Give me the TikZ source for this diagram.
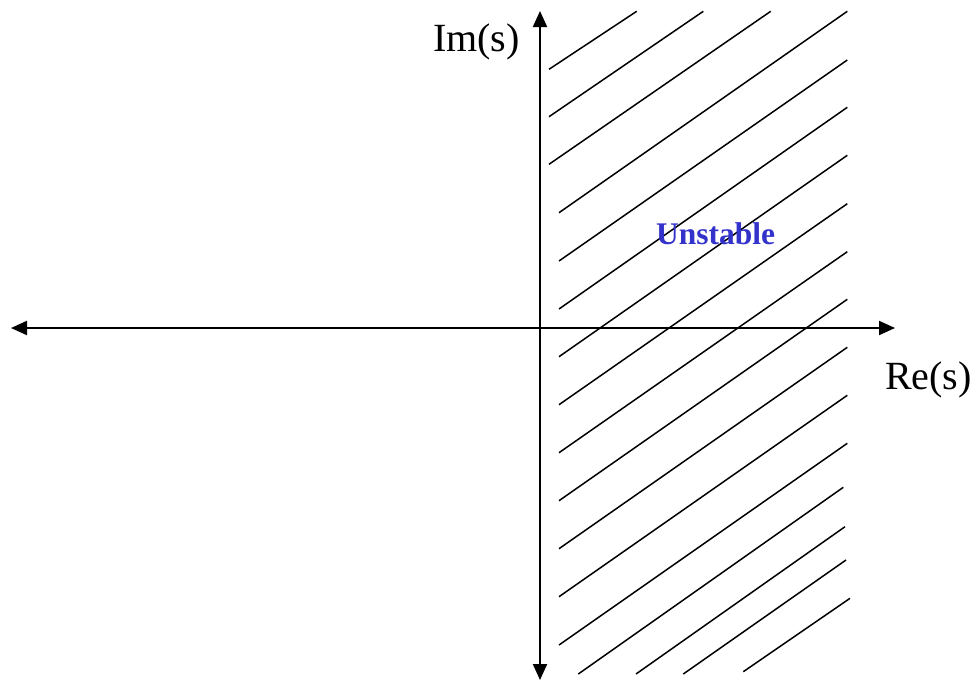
\documentclass[tikz,border=0pt]{standalone}
\usepackage{fontspec}
\setmainfont{Liberation Serif}
\usetikzlibrary{arrows.meta}
\definecolor{unstblue}{RGB}{51,51,204}
\tikzset{
  axis/.style={line width=2.1pt, -{Triangle[length=16pt,width=14pt]}},
  hatch/.style={line width=1.5pt},
  axlabel/.style={inner sep=0pt, anchor=base west, font=\fontsize{40}{40}\selectfont},
  regionlabel/.style={inner sep=0pt, anchor=base west, text=unstblue, font=\fontsize{31.5}{31.5}\selectfont\bfseries}
}
\begin{document}
\begin{tikzpicture}[x=1pt,y=-1pt]
\useasboundingbox (0,0) rectangle (980,681);
% hatch lines
\foreach \ax/\ay/\bx/\by in {
  549/69.3/636.7/11.3,
  549/116.7/703.3/11.3,
  549/164.3/770.7/11.3,
  559/212.7/847.3/11.3,
  559/261/847.3/60,
  559/309/847.3/107.3,
  559/356.7/847.3/155.3,
  559/404.7/847.3/203.7,
  559/452.7/847.3/251.7,
  559/500.7/847.3/299.3,
  559/548.7/847.3/347.3,
  559/596.7/847.3/395.3,
  559/645/847.3/443.3,
  578.3/674/843.3/487.3,
  636/674/845/526.7,
  683.3/674/846/560,
  743.3/671.7/850/598.3}
  \draw[hatch] (\ax,\ay) -- (\bx,\by);
% axes
\coordinate (origin) at (540,328);
\coordinate (xneg) at (11,328);
\coordinate (xpos) at (895,328);
\coordinate (ypos) at (540,11);
\coordinate (yneg) at (540,680);
\draw[axis] (origin) -- (xneg);
\draw[axis] (origin) -- (xpos);
\draw[axis] (origin) -- (ypos);
\draw[axis] (origin) -- (yneg);
% labels
\node[axlabel] (im) at (433,51) {Im(s)};
\node[axlabel] (re) at (885,389) {Re(s)};
\node[regionlabel] (unst) at (656,244) {Unstable};
\end{tikzpicture}
\end{document}
